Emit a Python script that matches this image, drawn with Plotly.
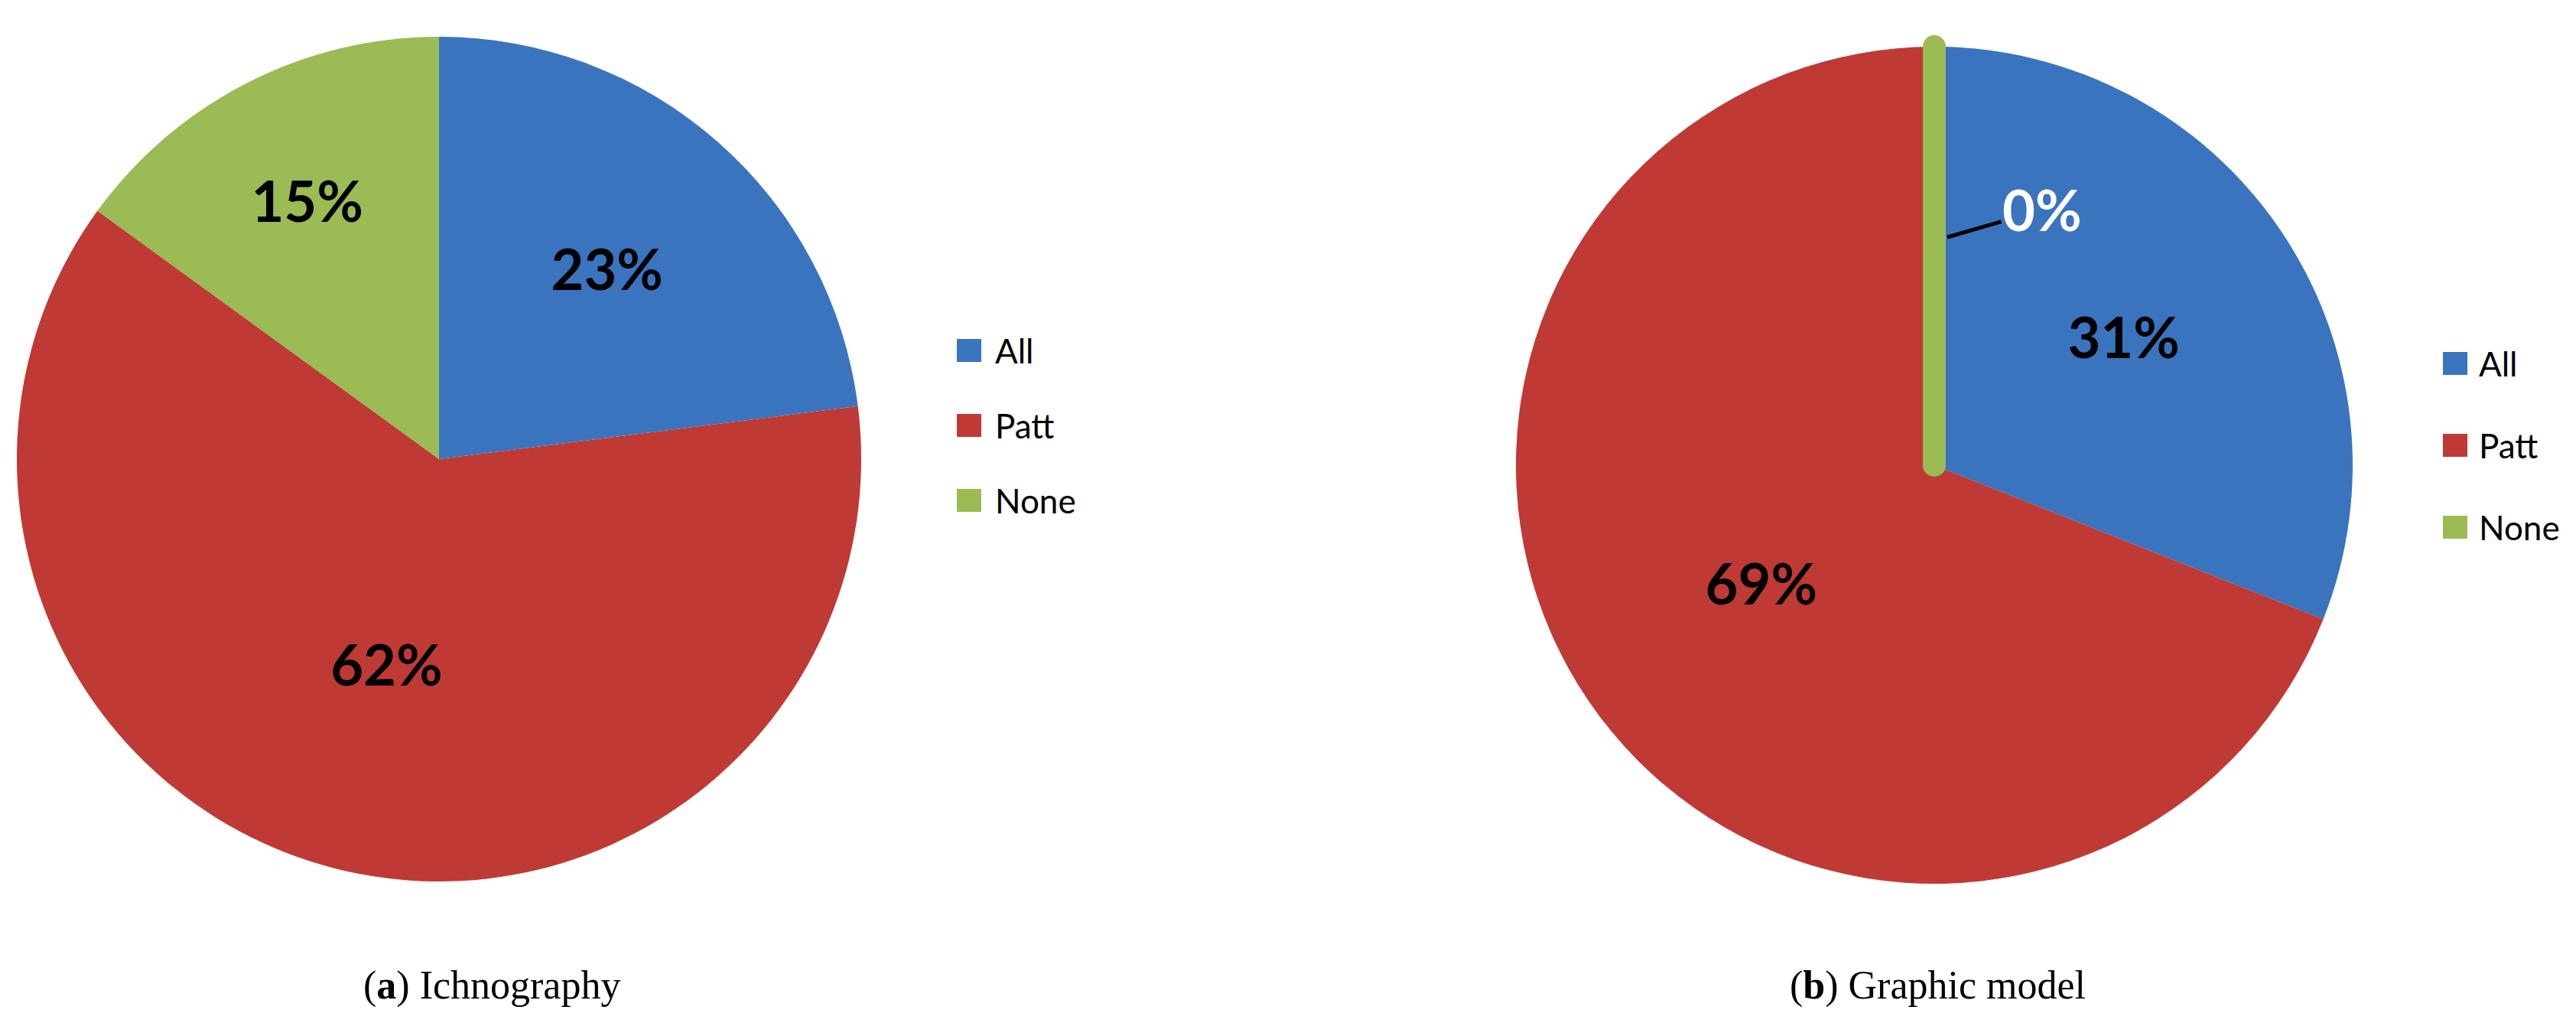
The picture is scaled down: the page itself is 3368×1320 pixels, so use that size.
import plotly.graph_objects as go

# ---------------- data ----------------
labels = ["All", "Patt", "None"]
ichnography_values = [23, 62, 15]
graphic_model_values = [31, 69, 0]
captions = ["(<b>a</b>) Ichnography", "(<b>b</b>) Graphic model"]
colors = ["#3a74bf", "#bf3a35", "#9bbb55"]

# ---------------- layout helpers ----------------
W, H = 3368, 1320


def px(x):
    return x / W


def py(y):
    return 1 - y / H


def domain(cx, cy, r):
    return dict(x=[px(cx - r), px(cx + r)], y=[py(cy + r), py(cy - r)])


LEFT = (566, 592, 552)
RIGHT = (2521, 600, 547)

label_font = dict(family="Lato", size=74, color="black", weight="bold")

fig = go.Figure()

fig.add_trace(go.Pie(
    labels=labels, values=ichnography_values, sort=False,
    direction="clockwise", rotation=0,
    marker=dict(colors=colors, line=dict(width=0)),
    texttemplate="%{percent:.0%}", textposition="inside",
    insidetextorientation="horizontal",
    insidetextfont=label_font,
    domain=domain(*LEFT), showlegend=False, hoverinfo="label+percent",
))

fig.add_trace(go.Pie(
    labels=labels, values=graphic_model_values, sort=False,
    direction="clockwise", rotation=0,
    marker=dict(colors=colors,
                line=dict(width=[0, 0, 30], color=["white", "white", colors[2]])),
    texttemplate="%{percent:.0%}",
    textposition=["inside", "inside", "none"],
    insidetextorientation="horizontal",
    insidetextfont=label_font,
    domain=domain(*RIGHT), showlegend=False, hoverinfo="label+percent",
))

shapes = []
annotations = []

# custom legends (large square swatches like the original)
legend_specs = [
    dict(x0=1243, y0=450, dy=98, tx=1291),
    dict(x0=3186, y0=467, dy=107, tx=3231),
]
for spec in legend_specs:
    for i, (lab, col) in enumerate(zip(labels, colors)):
        yc = spec["y0"] + i * spec["dy"]
        shapes.append(dict(type="rect", xref="paper", yref="paper",
                           x0=px(spec["x0"]), x1=px(spec["x0"] + 32),
                           y0=py(yc + 15), y1=py(yc - 15),
                           fillcolor=col, line=dict(width=0)))
        annotations.append(dict(text=lab, xref="paper", yref="paper",
                                x=px(spec["tx"]), y=py(yc), xanchor="left",
                                yanchor="middle", showarrow=False,
                                font=dict(family="Lato", size=44, color="black")))

# label for the zero slice, with leader line
total_b = sum(graphic_model_values)
zero_pct = f"{100 * graphic_model_values[2] / total_b:.0f}%"
annotations.append(dict(text=zero_pct, xref="paper", yref="paper",
                        x=px(2538), y=py(302), ax=124, ay=-36,
                        showarrow=True, arrowhead=0, arrowwidth=5,
                        arrowcolor="black", standoff=0, startstandoff=0,
                        font=label_font | dict(color="white")))

# captions
for cap, cx in zip(captions, [635, 2525]):
    annotations.append(dict(text=cap, xref="paper", yref="paper",
                            x=px(cx), y=py(1280), xanchor="center",
                            yanchor="middle", showarrow=False,
                            font=dict(family="Liberation Serif", size=52,
                                      color="black")))

fig.update_layout(
    width=W, height=H,
    margin=dict(l=0, r=0, t=0, b=0),
    paper_bgcolor="white", plot_bgcolor="white",
    shapes=shapes, annotations=annotations,
)

fig.write_html("out.html")
